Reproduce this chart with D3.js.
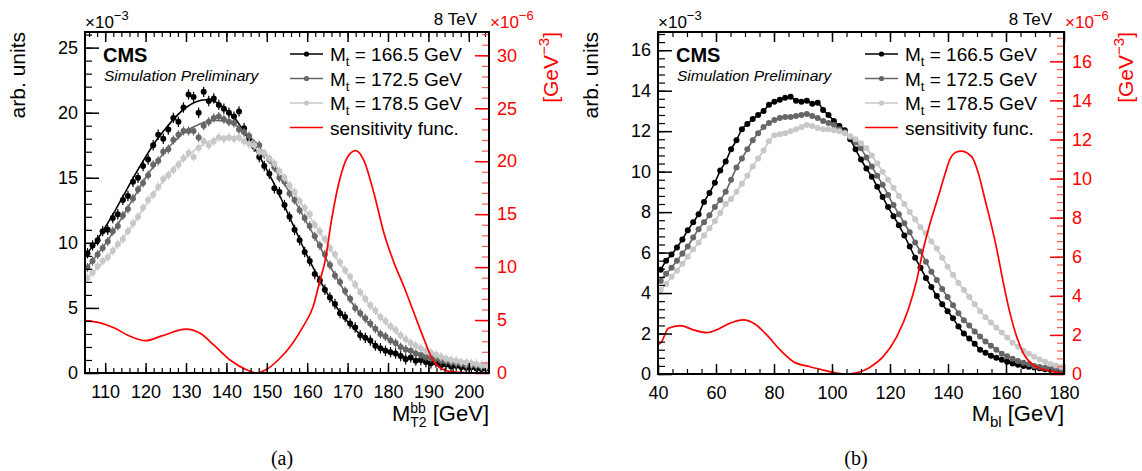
<!DOCTYPE html>
<html>
<head>
<meta charset="utf-8">
<script src="https://cdn.jsdelivr.net/npm/d3@7"></script>
<style>
body { margin: 0; background: #fff; }
svg { display: block; font-family: "Liberation Sans", Arial, Helvetica, sans-serif; }
</style>
</head>
<body>
<svg id="chart" width="1142" height="471"></svg>
<script>
// DATA

var massLabels = ["166.5", "172.5", "178.5"];
var seriesColors = ["#000000", "#666666", "#c8c8c8"];

// (a) M_T2^bb, 80 bins of 1.25 GeV from 105
var mt2Lo = 105, mt2BinWidth = 1.25;
var mt2Black = [
  9.2, 9.8, 10.2, 10.9, 11.0, 11.9, 12.2, 13.3, 13.6, 14.7,
  15.0, 15.9, 16.4, 17.5, 18.3, 18.0, 18.7, 19.6, 19.3, 20.4,
  21.4, 21.2, 20.0, 21.6, 20.9, 21.1, 20.6, 20.3, 20.0, 19.7,
  20.1, 18.8, 18.0, 17.4, 16.6, 15.9, 15.3, 14.2, 13.9, 12.9,
  12.0, 11.0, 10.2, 9.3, 8.6, 7.6, 7.1, 6.4, 5.8, 5.3,
  4.6, 4.3, 3.8, 3.5, 2.9, 2.7, 2.5, 2.1, 1.9, 1.7,
  1.6, 1.5, 1.3, 1.05, 1.2, 0.95, 1.0, 0.85, 0.75, 0.8,
  0.6, 0.65, 0.5, 0.55, 0.45, 0.4, 0.45, 0.35, 0.3, 0.35];
var mt2Gray = [
  8.1, 8.6, 9.1, 9.6, 10.1, 10.9, 11.3, 12.1, 12.6, 13.4,
  14.1, 14.6, 15.2, 16.0, 16.3, 17.0, 17.2, 17.9, 18.3, 18.6,
  18.6, 18.6, 18.1, 19.0, 19.3, 19.6, 19.7, 19.5, 19.3, 19.2,
  18.7, 18.5, 18.2, 17.6, 17.5, 16.8, 16.4, 15.8, 15.0, 14.7,
  13.8, 13.3, 12.5, 11.9, 11.3, 10.5, 9.8, 9.1, 8.3, 7.5,
  7.0, 6.3, 5.7, 5.0, 4.6, 4.2, 3.8, 3.4, 3.0, 2.8,
  2.5, 2.3, 2.0, 1.8, 1.7, 1.5, 1.4, 1.25, 1.15, 1.1,
  0.95, 0.9, 0.8, 0.75, 0.7, 0.6, 0.6, 0.55, 0.5, 0.45];
var mt2Light = [
  7.3, 7.7, 8.2, 8.6, 8.9, 9.4, 9.9, 10.3, 10.9, 11.5,
  12.0, 12.7, 13.3, 13.7, 14.3, 14.9, 15.2, 15.6, 16.0, 16.5,
  16.9, 16.6, 17.3, 17.8, 17.5, 17.8, 18.1, 18.0, 18.1, 18.0,
  18.1, 17.8, 17.6, 17.5, 17.0, 16.9, 16.5, 16.1, 15.5, 15.0,
  14.4, 13.9, 13.2, 12.7, 12.2, 11.4, 10.9, 10.3, 9.6, 9.1,
  8.5, 7.9, 7.4, 6.8, 6.2, 5.7, 5.2, 4.8, 4.3, 4.0,
  3.6, 3.3, 2.9, 2.6, 2.3, 2.1, 1.9, 1.7, 1.55, 1.4,
  1.25, 1.1, 1.0, 0.95, 0.85, 0.8, 0.75, 0.7, 0.6, 0.55];
var mt2Err = [0.4, 0.35, 0.35];

var mt2FitX = [105, 107.5, 110, 112.5, 115, 117.5, 120, 122.5, 125, 127.5,
  130, 132.5, 135, 137.5, 140, 142.5, 145, 147.5, 150, 152.5,
  155, 157.5, 160, 162.5, 165, 167.5, 170, 172.5, 175, 177.5,
  180, 182.5, 185, 187.5, 190, 195, 200, 205];
var mt2FitBlack = [9.0, 10.0, 11.2, 12.5, 13.9, 15.3, 16.6, 17.8, 18.8, 19.7,
  20.4, 20.85, 21.0, 20.8, 20.2, 19.4, 18.2, 17.0, 15.6, 14.1,
  12.4, 10.7, 9.0, 7.5, 6.1, 4.95, 3.95, 3.15, 2.55, 2.05,
  1.7, 1.4, 1.15, 0.95, 0.8, 0.55, 0.4, 0.3];
var mt2FitGray = [7.9, 8.9, 9.9, 11.1, 12.4, 13.7, 15.0, 16.1, 17.1, 17.9,
  18.6, 19.0, 19.3, 19.4, 19.3, 19.0, 18.4, 17.6, 16.6, 15.4,
  14.2, 12.9, 11.5, 10.1, 8.6, 7.2, 5.9, 4.8, 3.9, 3.2,
  2.6, 2.1, 1.75, 1.45, 1.2, 0.85, 0.6, 0.45];
var mt2FitLight = [7.1, 7.9, 8.7, 9.6, 10.6, 11.7, 12.9, 14.0, 15.0, 15.9,
  16.6, 17.2, 17.7, 18.0, 18.1, 18.0, 17.7, 17.2, 16.6, 15.8,
  14.7, 13.5, 12.3, 11.1, 9.9, 8.7, 7.6, 6.5, 5.4, 4.5,
  3.7, 3.0, 2.4, 1.95, 1.6, 1.05, 0.75, 0.55];

var mt2SensX = [105, 108, 112, 116, 120, 124, 130, 133.5, 137, 141,
  145, 147.5, 150, 153, 156, 159, 161.5, 163, 164.5, 166,
  168, 170, 172, 174, 176.5, 179, 181.5, 184, 186.5, 189,
  191, 193.5, 196, 200, 205];
var mt2Sens = [4.95, 4.8, 4.3, 3.5, 3.05, 3.5, 4.15, 3.75, 2.6, 1.2,
  0.3, 0.0, 0.35, 1.3, 2.6, 4.4, 6.3, 8.5, 10.7, 14.4,
  18.2, 20.4, 21.0, 20.1, 17.0, 13.2, 10.4, 8.1, 5.6, 3.1,
  1.3, 0.35, 0.1, 0.02, 0];

var mt2XTicks = [110, 120, 130, 140, 150, 160, 170, 180, 190, 200];
var mt2YTicks = [0, 5, 10, 15, 20, 25];
var mt2RTicks = [0, 5, 10, 15, 20, 25, 30];

// (b) M_bl, 75 bins from 40 to 180
var mblLo = 40, mblBinWidth = 140 / 75;
var mblBlack = [
  5.15, 5.6, 5.9, 6.25, 6.65, 7.1, 7.5, 7.9, 8.5, 8.95,
  9.45, 10.05, 10.5, 11.1, 11.55, 12.1, 12.35, 12.6, 12.8, 13.0,
  13.3, 13.45, 13.55, 13.65, 13.7, 13.5, 13.45, 13.5, 13.35, 13.4,
  13.05, 12.8, 12.5, 12.25, 12.05, 11.6, 11.1, 10.6, 10.15, 9.75,
  9.25, 8.75, 8.25, 7.8, 7.35, 6.85, 6.3, 5.75, 5.25, 4.75,
  4.3, 3.85, 3.45, 3.1, 2.75, 2.35, 2.0, 1.75, 1.5, 1.2,
  1.05, 0.9, 0.8, 0.7, 0.6, 0.52, 0.46, 0.4, 0.36, 0.32,
  0.28, 0.24, 0.21, 0.19, 0.17];
var mblGray = [
  4.6, 4.95, 5.25, 5.6, 5.95, 6.3, 6.75, 7.15, 7.5, 7.85,
  8.25, 8.6, 9.0, 9.6, 10.2, 10.65, 11.1, 11.55, 11.9, 12.2,
  12.4, 12.55, 12.65, 12.7, 12.7, 12.75, 12.8, 12.85, 12.75, 12.65,
  12.5, 12.4, 12.3, 12.1, 11.95, 11.7, 11.45, 11.15, 10.7, 10.25,
  9.8, 9.35, 8.85, 8.35, 7.9, 7.45, 7.0, 6.5, 6.05, 5.55,
  5.05, 4.65, 4.2, 3.8, 3.4, 3.0, 2.65, 2.4, 2.1, 1.85,
  1.6, 1.4, 1.2, 1.0, 0.88, 0.75, 0.64, 0.56, 0.48, 0.4,
  0.35, 0.31, 0.28, 0.25, 0.23];
var mblLight = [
  4.15, 4.45, 4.8, 5.1, 5.45, 5.8, 6.15, 6.5, 6.85, 7.2,
  7.55, 7.95, 8.4, 8.65, 9.0, 9.4, 9.8, 10.25, 10.65, 11.05,
  11.5, 11.8, 11.85, 11.9, 12.0, 12.1, 12.2, 12.3, 12.25, 12.15,
  12.1, 12.1, 12.05, 12.0, 11.9, 11.75, 11.6, 11.4, 11.15, 10.8,
  10.4, 10.0, 9.6, 9.2, 8.8, 8.4, 8.0, 7.65, 7.25, 6.95,
  6.55, 6.2, 5.75, 5.3, 4.9, 4.5, 4.15, 3.8, 3.45, 3.1,
  2.8, 2.55, 2.3, 2.05, 1.8, 1.55, 1.35, 1.15, 1.0, 0.85,
  0.72, 0.6, 0.5, 0.42, 0.35];

var mblSensX = [40, 41, 43.6, 47.6, 52.2, 56.8, 60.2, 64.8, 69.4, 73.4,
  77.5, 82.1, 86.7, 92.4, 97, 101.6, 105, 108, 110.5, 113.1,
  117.7, 122.3, 126.3, 129.2, 131.5, 133.8, 136.5, 138.5, 140.7, 142.7,
  144.7, 146.7, 148.7, 150.8, 152.8, 154.5, 156.8, 159.1, 161.4, 163.7,
  166, 169.4, 174, 180];
var mblSens = [1.5, 1.6, 2.34, 2.48, 2.26, 2.12, 2.26, 2.6, 2.77, 2.56,
  2.0, 1.23, 0.63, 0.37, 0.2, 0.05, 0.0, 0.05, 0.15, 0.35,
  0.9, 1.9, 3.3, 4.8, 6.4, 7.7, 9.0, 10.0, 11.0, 11.35,
  11.4, 11.3, 11.0, 10.1, 8.9, 7.9, 6.4, 4.65, 3.1, 1.9,
  1.06, 0.46, 0.2, 0.03];

var mblXTicks = [40, 60, 80, 100, 120, 140, 160, 180];
var mblYTicks = [0, 2, 4, 6, 8, 10, 12, 14, 16];
var mblRTicks = [0, 2, 4, 6, 8, 10, 12, 14, 16];


// SETUP

var svg = d3.select("#chart"),
    red = "#ff0000",
    font = "'Liberation Sans', Arial, Helvetica, sans-serif";

function centers(lo, w, n) {
    return d3.range(n).map(function (i) { return lo + (i + 0.5) * w; });
}

var panels = [
    {
        name: "a", tag: "(a)",
        left: 85, right: 489, top: 32, bottom: 373,
        xDomain: [105, 205], yDomain: [0, 26.2], rDomain: [0, 32.2],
        xTicks: mt2XTicks, xMinor: d3.range(106, 205, 2),
        yTicks: mt2YTicks, yMinor: d3.range(0, 26.5, 1),
        rTicks: mt2RTicks, rMinor: d3.range(0, 32.5, 1),
        centers: centers(mt2Lo, mt2BinWidth, mt2Black.length),
        values: [mt2Black, mt2Gray, mt2Light],
        err: mt2Err,
        fitX: mt2FitX, fits: [mt2FitBlack, mt2FitGray, mt2FitLight],
        sensX: mt2SensX, sens: mt2Sens
    },
    {
        name: "b", tag: "(b)",
        left: 658, right: 1064, top: 32, bottom: 374,
        xDomain: [40, 180], yDomain: [0, 16.9], rDomain: [0, 17.5],
        xTicks: mblXTicks, xMinor: d3.range(45, 180, 5),
        yTicks: mblYTicks, yMinor: d3.range(0, 16.9, 0.4),
        rTicks: mblRTicks, rMinor: d3.range(0, 17.5, 0.4),
        centers: centers(mblLo, mblBinWidth, mblBlack.length),
        values: [mblBlack, mblGray, mblLight],
        err: null,
        fitX: null, fits: null,
        sensX: mblSensX, sens: mblSens
    }
];

function addAxis(g, axisFn, scale, transform, values, size, pad, color, labels, width) {
    var a = axisFn(scale).tickValues(values).tickSize(size).tickPadding(pad);
    if (!labels) a.tickFormat("");
    var ag = g.append("g").attr("transform", transform).call(a);
    ag.attr("font-family", null).attr("font-size", null);
    ag.select(".domain").remove();
    ag.selectAll("line").attr("stroke", color).attr("stroke-width", width);
    ag.selectAll("text").attr("fill", color)
        .style("font-family", font).style("font-size", "18px");
    return ag;
}


// DRAWING

function draw(p) {
    var x = d3.scaleLinear().domain(p.xDomain).range([p.left, p.right]),
        y = d3.scaleLinear().domain(p.yDomain).range([p.bottom, p.top]),
        yr = d3.scaleLinear().domain(p.rDomain).range([p.bottom, p.top]);

    var g = svg.append("g");

    g.append("clipPath").attr("id", "clip" + p.name)
        .append("rect")
        .attr("x", p.left).attr("y", p.top)
        .attr("width", p.right - p.left).attr("height", p.bottom - p.top);

    var plot = g.append("g").attr("clip-path", "url(#clip" + p.name + ")");

    var line = d3.line()
        .x(function (d) { return x(d[0]); })
        .y(function (d) { return y(d[1]); })
        .curve(d3.curveMonotoneX);

    p.values.forEach(function (vals, k) {
        var pts = d3.zip(p.centers, vals);
        var lineData = p.fits ? d3.zip(p.fitX, p.fits[k]) : pts;

        plot.append("path").datum(lineData)
            .attr("fill", "none")
            .attr("stroke", seriesColors[k])
            .attr("stroke-width", 1.6)
            .attr("d", line);

        if (p.err) {
            plot.selectAll(null).data(pts).enter().append("line")
                .attr("x1", function (d) { return x(d[0]); })
                .attr("x2", function (d) { return x(d[0]); })
                .attr("y1", function (d) { return y(d[1] - p.err[k]); })
                .attr("y2", function (d) { return y(d[1] + p.err[k]); })
                .attr("stroke", seriesColors[k])
                .attr("stroke-width", 1.2);
        }

        plot.selectAll(null).data(pts).enter().append("circle")
            .attr("cx", function (d) { return x(d[0]); })
            .attr("cy", function (d) { return y(d[1]); })
            .attr("r", 3)
            .attr("fill", seriesColors[k]);
    });

    // sensitivity function on the red axis
    plot.append("path").datum(d3.zip(p.sensX, p.sens))
        .attr("fill", "none")
        .attr("stroke", red)
        .attr("stroke-width", 1.7)
        .attr("d", d3.line()
            .x(function (d) { return x(d[0]); })
            .y(function (d) { return yr(d[1]); })
            .curve(d3.curveMonotoneX));

    // axes
    addAxis(g, d3.axisBottom, x, "translate(0," + p.bottom + ")", p.xMinor, -5, 12, "#000", false, 1.2);
    addAxis(g, d3.axisBottom, x, "translate(0," + p.bottom + ")", p.xTicks, -10, 12, "#000", true, 1.5);
    addAxis(g, d3.axisTop, x, "translate(0," + p.top + ")", p.xMinor, -5, 3, "#000", false, 1.2);
    addAxis(g, d3.axisTop, x, "translate(0," + p.top + ")", p.xTicks, -10, 3, "#000", false, 1.5);
    addAxis(g, d3.axisLeft, y, "translate(" + p.left + ",0)", p.yMinor, -7, 7, "#000", false, 1.2);
    addAxis(g, d3.axisLeft, y, "translate(" + p.left + ",0)", p.yTicks, -14, 7, "#000", true, 1.5);
    addAxis(g, d3.axisRight, yr, "translate(" + p.right + ",0)", p.rMinor, -7, 7, "#ff5a5a", false, 1.2);
    addAxis(g, d3.axisRight, yr, "translate(" + p.right + ",0)", p.rTicks, -14, 8, red, true, 1.5);

    g.append("rect")
        .attr("x", p.left).attr("y", p.top)
        .attr("width", p.right - p.left).attr("height", p.bottom - p.top)
        .attr("fill", "none").attr("stroke", "#000").attr("stroke-width", 2);

    // exponent labels
    var e1 = g.append("text").attr("x", p.left).attr("y", 28)
        .style("font-size", "17px").text("\u00d710");
    e1.append("tspan").attr("dy", -8).style("font-size", "13px").text("\u22123");

    var e2 = g.append("text").attr("x", p.right + 1).attr("y", 28)
        .attr("fill", red).style("font-size", "17px").text("\u00d710");
    e2.append("tspan").attr("dy", -8).style("font-size", "13px").text("\u22126");

    g.append("text").attr("x", p.right - 12).attr("y", 25)
        .attr("text-anchor", "end").style("font-size", "17px").text("8 TeV");

    // axis titles
    g.append("text")
        .attr("transform", "translate(" + (p.left - 60) + "," + p.top + ") rotate(-90)")
        .attr("text-anchor", "end").style("font-size", "21px").text("arb. units");

    var rt = g.append("text")
        .attr("transform", "translate(" + (p.right + 69) + "," + p.top + ") rotate(-90)")
        .attr("text-anchor", "end").attr("fill", red).style("font-size", "21px")
        .text("[GeV");
    rt.append("tspan").attr("dy", -9).style("font-size", "15px").text("\u22123");
    rt.append("tspan").attr("dy", 9).text("]");

    var xt = g.append("text").attr("x", p.right).attr("y", 421)
        .attr("text-anchor", "end").style("font-size", "22px").text("M");
    if (p.name === "a") {
        xt.append("tspan").attr("dy", -8).style("font-size", "14px").text("bb");
        xt.append("tspan").attr("dx", -15.6).attr("dy", 14).style("font-size", "14px").text("T2");
        xt.append("tspan").attr("dy", -6).text(" [GeV]");
    } else {
        xt.append("tspan").attr("dy", 6).style("font-size", "15px").text("bl");
        xt.append("tspan").attr("dy", -6).text(" [GeV]");
    }

    g.append("text").attr("x", (p.left + p.right) / 2 - 5).attr("y", 465)
        .attr("text-anchor", "middle")
        .style("font-family", "'Liberation Serif', 'Times New Roman', serif")
        .style("font-size", "20px").text(p.tag);

    // CMS label
    g.append("text").attr("x", p.left + 18).attr("y", 62)
        .style("font-size", "20px").style("font-weight", "bold").text("CMS");
    g.append("text").attr("x", p.left + 19).attr("y", 81)
        .style("font-size", "15.5px").style("font-style", "italic").text("Simulation Preliminary");

    // legend
    var lx = p.right - 199;
    var leg = g.append("g");
    [0, 1, 2, 3].forEach(function (k) {
        var cy = 54 + k * 24.5;
        var col = k < 3 ? seriesColors[k] : red;
        leg.append("line")
            .attr("x1", lx).attr("x2", lx + 33)
            .attr("y1", cy).attr("y2", cy)
            .attr("stroke", col).attr("stroke-width", 1.6);
        var t = leg.append("text").attr("x", lx + 40).attr("y", cy + 7)
            .style("font-size", "19px");
        if (k < 3) {
            leg.append("circle").attr("cx", lx + 16.5).attr("cy", cy)
                .attr("r", 2.6).attr("fill", col);
            t.text("M");
            t.append("tspan").attr("dy", 5).style("font-size", "13px").text("t");
            t.append("tspan").attr("dy", -5).text(" = " + massLabels[k] + " GeV");
        } else {
            t.text("sensitivity func.");
        }
    });
}

panels.forEach(draw);
</script>
</body>
</html>
